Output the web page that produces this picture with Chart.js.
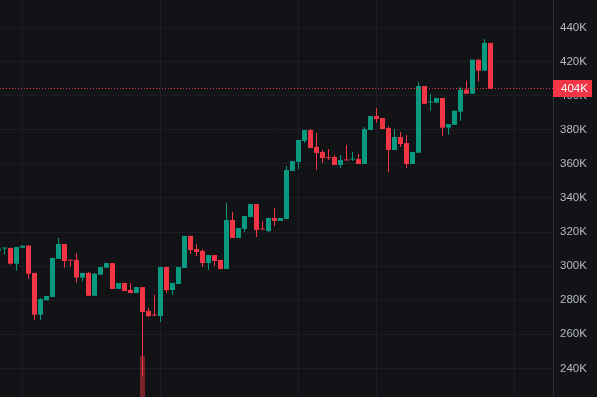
<!DOCTYPE html>
<html><head><meta charset="utf-8">
<script src="https://cdn.jsdelivr.net/npm/chart.js@4"></script>
<style>html,body{margin:0;padding:0;background:#121316;overflow:hidden}#wrap{width:597px;height:397px;position:relative}</style>
</head><body><div id="wrap"><canvas id="c" width="597" height="397"></canvas></div>
<script>
// Price values in thousands (K)
const opens  = [309.0,310.3,310.6,301.4,310.8,312.0,296.0,271.5,280.0,281.9,304.2,313.0,303.6,303.6,293.2,296.0,282.6,295.0,299.1,301.8,286.6,290.1,286.0,284.2,287.7,273.7,271.3,270.7,299.5,286.0,289.5,298.9,317.7,310.0,308.9,301.8,306.5,303.6,298.3,327.0,316.5,321.8,328.8,336.4,321.8,320.6,328.2,326.5,327.6,355.8,361.1,373.4,379.8,369.9,366.9,363.6,364.0,359.3,362.3,362.5,362.8,359.9,379.8,388.0,386.9,381.0,368.1,375.7,372.2,359.9,366.5,405.6,396.0,395.8,398.6,381.2,382.8,390.6,403.5,401.1,421.1,414.6,430.9];
const highs  = [310.6,310.9,310.8,311.3,312.0,312.4,296.0,281.3,282.5,304.8,316.5,313.0,303.6,307.7,296.0,296.5,296.0,299.5,301.8,301.8,290.1,290.1,290.1,287.7,287.7,275.4,283.0,299.5,299.5,290.1,299.5,317.7,317.7,313.0,310.0,306.5,306.5,303.6,337.0,331.7,322.3,329.4,336.4,336.4,326.5,328.2,334.1,328.2,358.7,361.6,374.0,379.8,380.4,378.1,368.1,368.7,365.2,365.2,371.0,366.9,365.7,381.6,388.0,392.7,386.9,382.2,380.4,378.6,376.9,366.9,408.0,405.6,400.9,398.6,398.6,383.3,391.1,404.9,408.7,421.1,421.1,433.2,430.9];
const lows   = [308.8,306.7,300.8,297.3,310.8,292.6,268.6,268.6,280.0,281.9,304.2,299.1,299.6,290.3,290.9,282.6,282.6,295.0,299.1,286.6,286.6,285.4,284.2,284.2,235.5,270.1,270.8,267.2,284.2,283.0,289.5,298.9,307.1,305.9,299.5,297.7,300.1,298.3,298.3,316.5,316.5,320.0,328.8,317.1,321.5,320.0,323.5,326.5,327.6,355.8,357.0,372.2,369.3,356.4,360.5,362.2,359.3,357.5,362.0,361.6,359.9,359.9,379.8,383.9,380.4,355.2,368.1,369.9,357.5,359.9,366.5,395.2,391.1,395.8,376.3,377.1,382.8,385.3,401.1,401.1,408.2,414.6,404.0];
const closes = [310.2,310.5,301.4,311.2,312.0,295.5,271.5,280.7,282.5,304.8,313.0,303.0,303.2,293.2,296.0,282.6,295.5,299.5,301.8,286.6,290.1,285.4,284.2,287.7,273.1,270.7,271.0,299.5,286.0,290.1,299.5,317.7,309.4,308.3,301.8,306.5,303.0,298.3,327.0,316.5,322.3,329.4,336.4,321.2,321.5,328.2,326.5,328.2,356.4,361.6,374.0,379.8,369.3,366.3,363.4,363.3,359.3,362.2,362.0,362.8,359.9,380.4,388.0,386.3,380.4,368.1,375.7,371.6,359.9,366.9,405.6,395.2,396.4,398.6,381.2,383.3,391.1,403.5,401.1,421.1,414.6,430.9,404.0];
// Only the spike session's volume bar reaches into the visible window
const volumes = opens.map(() => null);
volumes[24] = 10.3;
const tickValues = [240,260,280,300,320,340,360,380,400,420,440];
const timeMarks = [4,27,50,63,86];
const lastPrice = closes[closes.length-1];

const UP = '#089981', DOWN = '#F23645';
const GRID = '#1c1e23';
const colors = opens.map((o,i) => closes[i] >= o ? UP : DOWN);
const wickData = opens.map((o,i) => ({x:i, y:[lows[i], highs[i]]}));
const bodyData = opens.map((o,i) => ({x:i, y:[o, closes[i]]}));
const volData = [], volColors = [];
volumes.forEach((v,i) => { if (v != null) { volData.push({x:i, y:v}); volColors.push(colors[i] === UP ? 'rgba(8,153,129,0.45)' : 'rgba(242,54,69,0.45)'); } });

const lastPricePlugin = {
  id: 'lastPrice',
  afterDatasetsDraw(chart) {
    const {ctx, chartArea:{left, right}, scales:{y}} = chart;
    const py = Math.floor(y.getPixelForValue(lastPrice)) + 0.5;
    ctx.save();
    ctx.strokeStyle = DOWN; ctx.lineWidth = 1; ctx.setLineDash([1,2]);
    ctx.beginPath(); ctx.moveTo(left, py); ctx.lineTo(right, py); ctx.stroke();
    ctx.setLineDash([]);
    ctx.fillStyle = DOWN;
    ctx.fillRect(right, Math.round(py - 8.5), 39, 17);
    ctx.fillStyle = '#ffffff';
    ctx.font = '11.5px "Liberation Sans", Arial, sans-serif';
    ctx.textBaseline = 'middle'; ctx.textAlign = 'left';
    ctx.fillText(Math.round(lastPrice) + 'K', right + 8, py + 0.5);
    ctx.restore();
  }
};

new Chart(document.getElementById('c'), {
  type: 'bar',
  data: {
    datasets: [
      { data: volData, yAxisID: 'v', backgroundColor: volColors, barThickness: 5, grouped: false, order: 3, inflateAmount: 0, borderWidth: 0 },
      { data: wickData, yAxisID: 'y', backgroundColor: colors, barThickness: 1, grouped: false, order: 2, inflateAmount: 0, borderWidth: 0 },
      { data: bodyData, yAxisID: 'y', backgroundColor: colors, barThickness: 5, grouped: false, order: 1, inflateAmount: 0, borderWidth: 0, minBarLength: 1 }
    ]
  },
  options: {
    responsive: false, animation: false, events: [],
    layout: { padding: 0 },
    plugins: { legend: { display: false }, tooltip: { enabled: false } },
    scales: {
      x: {
        type: 'linear', min: 0.25, max: 92.4167, offset: false,
        afterBuildTicks: s => { s.ticks = timeMarks.map(v => ({value: v})); },
        afterFit: s => { s.height = 0; s.paddingLeft = 0; s.paddingRight = 0; },
        grid: { color: GRID, drawTicks: false, offset: false },
        border: { display: false },
        ticks: { display: false }
      },
      y: {
        position: 'right', min: 223.23, max: 456.07,
        afterBuildTicks: s => { s.ticks = tickValues.map(v => ({value: v})); },
        afterFit: s => { s.width = 44; s.paddingTop = 0; s.paddingBottom = 0; },
        grid: { color: GRID, drawTicks: false },
        border: { display: true, color: '#2a2d34' },
        ticks: { padding: 7, color: '#b7bac2', font: { family: '"Liberation Sans", Arial, sans-serif', size: 11.5 }, callback: v => v + 'K' }
      },
      v: { display: false, min: 0, max: 100 }
    }
  },
  plugins: [lastPricePlugin]
});
</script></body></html>
